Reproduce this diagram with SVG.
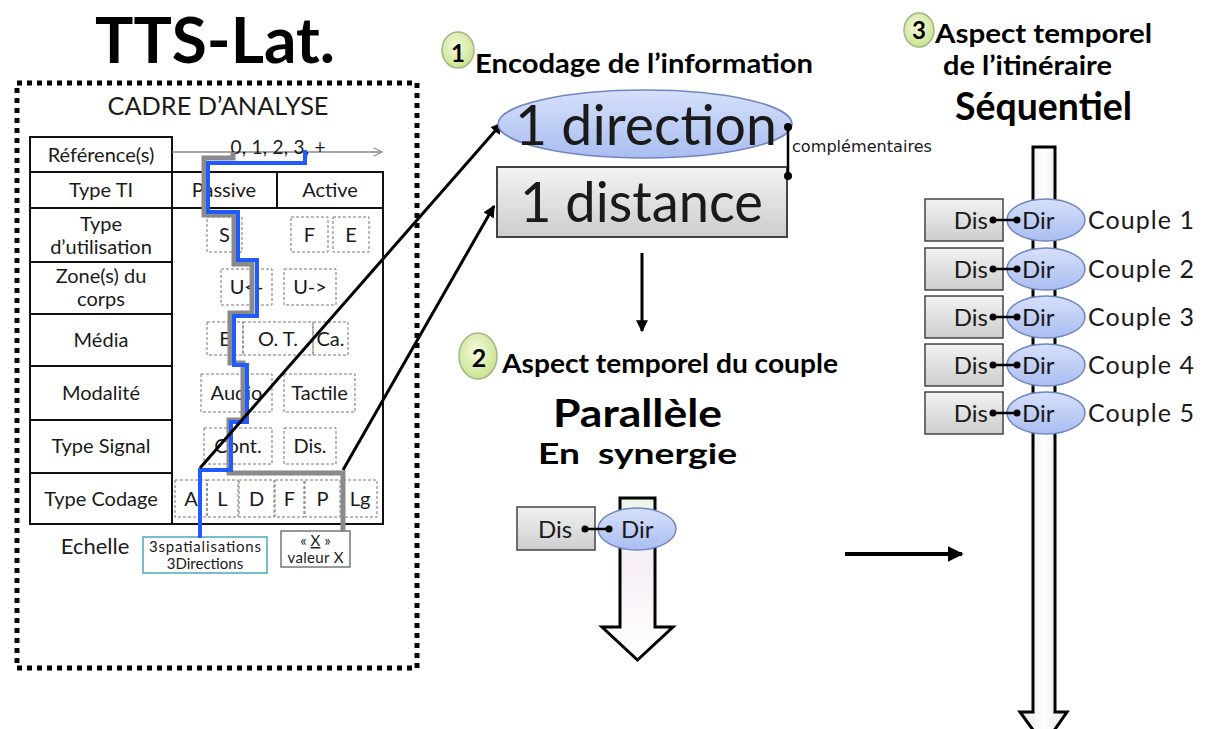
<svg xmlns="http://www.w3.org/2000/svg" width="1205" height="729" viewBox="0 0 1205 729">
<style>
text{font-family:Lato,"Open Sans","Liberation Sans",sans-serif;fill:#1a1a1a}
.b{font-weight:bold;fill:#000}
.cell{fill:#fff;stroke:#111;stroke-width:2}
.dbox{fill:none;stroke:#777;stroke-width:1;stroke-dasharray:3 2}
.t18{font-size:20px;text-anchor:middle}
.dis{fill:url(#gGray);stroke:#444;stroke-width:1.5}
.dir{fill:url(#gBlue);stroke:#7186c0;stroke-width:1.5}
.num{fill:url(#gGreen);stroke:#a7b38a;stroke-width:1.5}
.dot{fill:#000}
.lnk{stroke:#000;stroke-width:2.5}
.ctext{font-size:24px}
.cpl{font-size:25px}
</style>
<defs>
<linearGradient id="gBlue" x1="0" y1="0" x2="0" y2="1"><stop offset="0" stop-color="#d6e0fa"/><stop offset="1" stop-color="#a9bdf0"/></linearGradient>
<linearGradient id="gGray" x1="0" y1="0" x2="0" y2="1"><stop offset="0" stop-color="#f3f3f3"/><stop offset="1" stop-color="#cdcdcd"/></linearGradient>
<radialGradient id="gGreen" cx="0.45" cy="0.4" r="0.6"><stop offset="0" stop-color="#f6fbdf"/><stop offset="1" stop-color="#c9e38f"/></radialGradient>
<linearGradient id="gShaft" x1="0" y1="0" x2="1" y2="0"><stop offset="0" stop-color="#e4e4e8"/><stop offset="0.5" stop-color="#ffffff"/><stop offset="1" stop-color="#e4e4e8"/></linearGradient>
<linearGradient id="gShaft2" x1="0" y1="0" x2="0" y2="1"><stop offset="0" stop-color="#edf6ea"/><stop offset="0.4" stop-color="#f7eef6"/><stop offset="1" stop-color="#ffffff"/></linearGradient>
<marker id="ah" viewBox="0 0 10 10" refX="9" refY="5" markerWidth="4" markerHeight="4" orient="auto" markerUnits="strokeWidth"><path d="M0,0 L10,5 L0,10 Z" fill="#000"/></marker>
<marker id="ahOpen" viewBox="0 0 12 12" refX="11" refY="6" markerWidth="10" markerHeight="10" orient="auto" markerUnits="userSpaceOnUse"><path d="M1,1 L11,6 L1,11" fill="none" stroke="#888" stroke-width="1.3"/></marker>
</defs>

<rect width="1205" height="729" fill="#fff"/>

<g id="title">
<text class="b" x="95" y="63" font-size="64" textLength="240" lengthAdjust="spacingAndGlyphs">TTS-Lat.</text>
</g>

<g id="cadre">
<rect x="17" y="83" width="400" height="585" fill="none" stroke="#000" stroke-width="5" stroke-dasharray="5 5"/>
<text x="218" y="115" font-size="25" text-anchor="middle" textLength="221" lengthAdjust="spacingAndGlyphs">CADRE D’ANALYSE</text>
</g>

<g id="table">
<rect class="cell" x="30" y="137" width="142" height="35"/>
<rect class="cell" x="30" y="172" width="142" height="36"/>
<rect class="cell" x="30" y="208" width="142" height="54"/>
<rect class="cell" x="30" y="262" width="142" height="52"/>
<rect class="cell" x="30" y="314" width="142" height="52"/>
<rect class="cell" x="30" y="366" width="142" height="54"/>
<rect class="cell" x="30" y="420" width="142" height="53"/>
<rect class="cell" x="30" y="473" width="142" height="51"/>
<rect class="cell" x="172" y="172" width="211" height="352"/>
<line x1="172" y1="208" x2="383" y2="208" stroke="#111" stroke-width="2"/>
<line x1="277" y1="172" x2="277" y2="208" stroke="#111" stroke-width="2"/>
<line x1="172" y1="152" x2="382" y2="152" stroke="#888" stroke-width="1.3" marker-end="url(#ahOpen)"/>
<text x="278" y="154" font-size="19" text-anchor="middle" textLength="95">0, 1, 2, 3, +</text>
<text class="t18" x="101" y="162">Référence(s)</text>
<text class="t18" x="101" y="197">Type TI</text>
<text class="t18" x="224" y="197">Passive</text>
<text class="t18" x="330" y="197">Active</text>
<text class="t18" x="101" y="231">Type</text>
<text class="t18" x="101" y="254">d’utilisation</text>
<text class="t18" x="101" y="283">Zone(s) du</text>
<text class="t18" x="101" y="306">corps</text>
<text class="t18" x="101" y="347">Média</text>
<text class="t18" x="101" y="400">Modalité</text>
<text class="t18" x="101" y="453">Type Signal</text>
<text class="t18" x="101" y="506">Type Codage</text>

<rect class="dbox" x="207" y="217" width="35" height="35"/>
<rect class="dbox" x="291" y="217" width="37" height="35"/>
<rect class="dbox" x="333" y="217" width="36" height="35"/>
<text class="t18" x="224.5" y="242">S</text>
<text class="t18" x="309.5" y="242">F</text>
<text class="t18" x="351" y="242">E</text>

<rect class="dbox" x="221" y="269" width="51" height="36"/>
<rect class="dbox" x="284" y="269" width="52" height="36"/>
<text class="t18" x="246.5" y="294">U&lt;-</text>
<text class="t18" x="310" y="294">U-&gt;</text>

<rect class="dbox" x="207" y="322" width="36" height="33"/>
<rect class="dbox" x="243" y="322" width="70" height="33"/>
<rect class="dbox" x="313" y="322" width="35" height="33"/>
<text class="t18" x="225" y="346">E</text>
<text class="t18" x="278" y="346">O. T.</text>
<text class="t18" x="330.5" y="346">Ca.</text>

<rect class="dbox" x="201" y="374" width="71" height="38"/>
<rect class="dbox" x="284" y="374" width="71" height="38"/>
<text class="t18" x="236.5" y="400">Audio</text>
<text class="t18" x="319.5" y="400">Tactile</text>

<rect class="dbox" x="204" y="428" width="68" height="36"/>
<rect class="dbox" x="284" y="428" width="52" height="36"/>
<text class="t18" x="238" y="453">Cont.</text>
<text class="t18" x="310" y="453">Dis.</text>

<rect class="dbox" x="175" y="480" width="32" height="37"/>
<rect class="dbox" x="207" y="480" width="31" height="37"/>
<rect class="dbox" x="239" y="480" width="35" height="37"/>
<rect class="dbox" x="275" y="480" width="29" height="37"/>
<rect class="dbox" x="305" y="480" width="35" height="37"/>
<rect class="dbox" x="343" y="480" width="34" height="37"/>
<text class="t18" x="191" y="506">A</text>
<text class="t18" x="222.5" y="506">L</text>
<text class="t18" x="256.5" y="506">D</text>
<text class="t18" x="289.5" y="506">F</text>
<text class="t18" x="322.5" y="506">P</text>
<text class="t18" x="360" y="506">Lg</text>

<text x="95" y="554" font-size="22" text-anchor="middle">Echelle</text>
<rect x="143" y="537" width="124" height="36" fill="#fff" stroke="#4aa9bf" stroke-width="1.5"/>
<text x="205" y="552" font-size="15" text-anchor="middle" textLength="112">3spatialisations</text>
<text x="205" y="569" font-size="15" text-anchor="middle">3Directions</text>
<rect x="281" y="531" width="69" height="36" fill="#fff" stroke="#777" stroke-width="1.5"/>
<text x="315.5" y="546" font-size="15" text-anchor="middle">« <tspan text-decoration="underline">X</tspan> »</text>
<text x="315.5" y="563" font-size="15" text-anchor="middle" textLength="56">valeur X</text>
</g>

<g id="connectors" fill="none">
<path d="M233,152 V158 H204 V215 H234 V264 H252 V313 H230 V363 H243 V420 H229 V473 H343 V532" stroke="#8a8a8a" stroke-width="5"/>
<path d="M305,150 V163 H208 V212 H238 V260 H257 V316 H234 V365 H247 V422 H231 V470 H200 V538" stroke="#1f5bff" stroke-width="4"/>
<line x1="200" y1="468" x2="502" y2="123" stroke="#000" stroke-width="3" marker-end="url(#ah)"/>
<line x1="343" y1="470" x2="494" y2="206" stroke="#000" stroke-width="3" marker-end="url(#ah)"/>
<line x1="642" y1="253" x2="642" y2="331" stroke="#000" stroke-width="3" marker-end="url(#ah)"/>
<line x1="845" y1="554" x2="962" y2="554" stroke="#000" stroke-width="4" marker-end="url(#ah)"/>
</g>

<g id="section1">
<ellipse class="num" cx="458" cy="50" rx="16" ry="18"/>
<text class="b" x="458" y="62" font-size="24" text-anchor="middle">1</text>
<text class="b" x="475" y="73" font-size="26" textLength="338" lengthAdjust="spacingAndGlyphs">Encodage de l’information</text>
</g>

<g id="direction">
<ellipse cx="645" cy="124" rx="147" ry="34" fill="url(#gBlue)" stroke="#7186c0" stroke-width="1.5"/>
<text x="515" y="145" font-size="56" textLength="262" lengthAdjust="spacingAndGlyphs">1 direction</text>
</g>

<g id="distance">
<rect x="497" y="167" width="290" height="70" fill="url(#gGray)" stroke="#444" stroke-width="2"/>
<text x="520" y="222" font-size="56" textLength="243" lengthAdjust="spacingAndGlyphs">1 distance</text>
</g>

<g id="complementaires">
<line x1="788" y1="127" x2="788" y2="176" stroke="#000" stroke-width="2.5"/>
<circle class="dot" cx="788" cy="127" r="4"/>
<circle class="dot" cx="788" cy="176" r="4"/>
<text x="792" y="152" font-size="15" textLength="140" lengthAdjust="spacingAndGlyphs" style="font-family:'DejaVu Sans',sans-serif">complémentaires</text>
</g>

<g id="section2">
<ellipse class="num" cx="478" cy="356" rx="19" ry="23"/>
<text class="b" x="479" y="367" font-size="25" text-anchor="middle">2</text>
<text class="b" x="502" y="373" font-size="27" textLength="336" lengthAdjust="spacingAndGlyphs">Aspect temporel du couple</text>
<text class="b" x="553" y="427" font-size="39" textLength="169" lengthAdjust="spacingAndGlyphs">Parallèle</text>
<text class="b" x="538" y="464" font-size="29" textLength="199" lengthAdjust="spacingAndGlyphs" style="white-space:pre">En  synergie</text>
</g>

<g id="parallel-couple">
<path d="M620,498 H655 V627 H673 L637.5,660 L602,627 H620 Z" fill="url(#gShaft2)" stroke="#000" stroke-width="3"/>
<rect class="dis" x="517" y="507" width="78" height="43"/>
<ellipse class="dir" cx="637" cy="529" rx="39" ry="21"/>
<line class="lnk" x1="585" y1="529" x2="609" y2="529"/>
<circle class="dot" cx="585" cy="529" r="3.5"/>
<circle class="dot" cx="609" cy="529" r="3.5"/>
<text class="ctext" x="538" y="538">Dis</text>
<text class="ctext" x="621" y="538">Dir</text>
</g>

<g id="section3">
<ellipse class="num" cx="919" cy="30" rx="15" ry="17"/>
<text class="b" x="919" y="39" font-size="24" text-anchor="middle">3</text>
<text class="b" x="935" y="43" font-size="27" textLength="217" lengthAdjust="spacingAndGlyphs">Aspect temporel</text>
<text class="b" x="943" y="75" font-size="27" textLength="169" lengthAdjust="spacingAndGlyphs">de l’itinéraire</text>
<text class="b" x="955" y="120" font-size="39" textLength="177" lengthAdjust="spacingAndGlyphs">Séquentiel</text>
</g>

<g id="sequence-arrow">
<path d="M1033,147 H1055 V712 H1067 L1044,745 L1020,712 H1033 Z" fill="url(#gShaft)" stroke="#000" stroke-width="3"/>
</g>

<g id="couple1">
<rect class="dis" x="925" y="199" width="78" height="42"/>
<ellipse class="dir" cx="1046" cy="220" rx="39" ry="21"/>
<line class="lnk" x1="993" y1="220" x2="1017" y2="220"/>
<circle class="dot" cx="993" cy="220" r="3.5"/><circle class="dot" cx="1017" cy="220" r="3.5"/>
<text class="ctext" x="988" y="229" text-anchor="end">Dis</text>
<text class="ctext" x="1022" y="229">Dir</text>
<text class="cpl" x="1088" y="229" textLength="106">Couple 1</text>
</g>
<g id="couple2">
<rect class="dis" x="925" y="248" width="78" height="42"/>
<ellipse class="dir" cx="1046" cy="269" rx="39" ry="21"/>
<line class="lnk" x1="993" y1="269" x2="1017" y2="269"/>
<circle class="dot" cx="993" cy="269" r="3.5"/><circle class="dot" cx="1017" cy="269" r="3.5"/>
<text class="ctext" x="988" y="278" text-anchor="end">Dis</text>
<text class="ctext" x="1022" y="278">Dir</text>
<text class="cpl" x="1088" y="278" textLength="106">Couple 2</text>
</g>
<g id="couple3">
<rect class="dis" x="925" y="296" width="78" height="42"/>
<ellipse class="dir" cx="1046" cy="317" rx="39" ry="21"/>
<line class="lnk" x1="993" y1="317" x2="1017" y2="317"/>
<circle class="dot" cx="993" cy="317" r="3.5"/><circle class="dot" cx="1017" cy="317" r="3.5"/>
<text class="ctext" x="988" y="326" text-anchor="end">Dis</text>
<text class="ctext" x="1022" y="326">Dir</text>
<text class="cpl" x="1088" y="326" textLength="106">Couple 3</text>
</g>
<g id="couple4">
<rect class="dis" x="925" y="344" width="78" height="42"/>
<ellipse class="dir" cx="1046" cy="365" rx="39" ry="21"/>
<line class="lnk" x1="993" y1="365" x2="1017" y2="365"/>
<circle class="dot" cx="993" cy="365" r="3.5"/><circle class="dot" cx="1017" cy="365" r="3.5"/>
<text class="ctext" x="988" y="374" text-anchor="end">Dis</text>
<text class="ctext" x="1022" y="374">Dir</text>
<text class="cpl" x="1088" y="374" textLength="106">Couple 4</text>
</g>
<g id="couple5">
<rect class="dis" x="925" y="392" width="78" height="42"/>
<ellipse class="dir" cx="1046" cy="413" rx="39" ry="21"/>
<line class="lnk" x1="993" y1="413" x2="1017" y2="413"/>
<circle class="dot" cx="993" cy="413" r="3.5"/><circle class="dot" cx="1017" cy="413" r="3.5"/>
<text class="ctext" x="988" y="422" text-anchor="end">Dis</text>
<text class="ctext" x="1022" y="422">Dir</text>
<text class="cpl" x="1088" y="422" textLength="106">Couple 5</text>
</g>
</svg>
